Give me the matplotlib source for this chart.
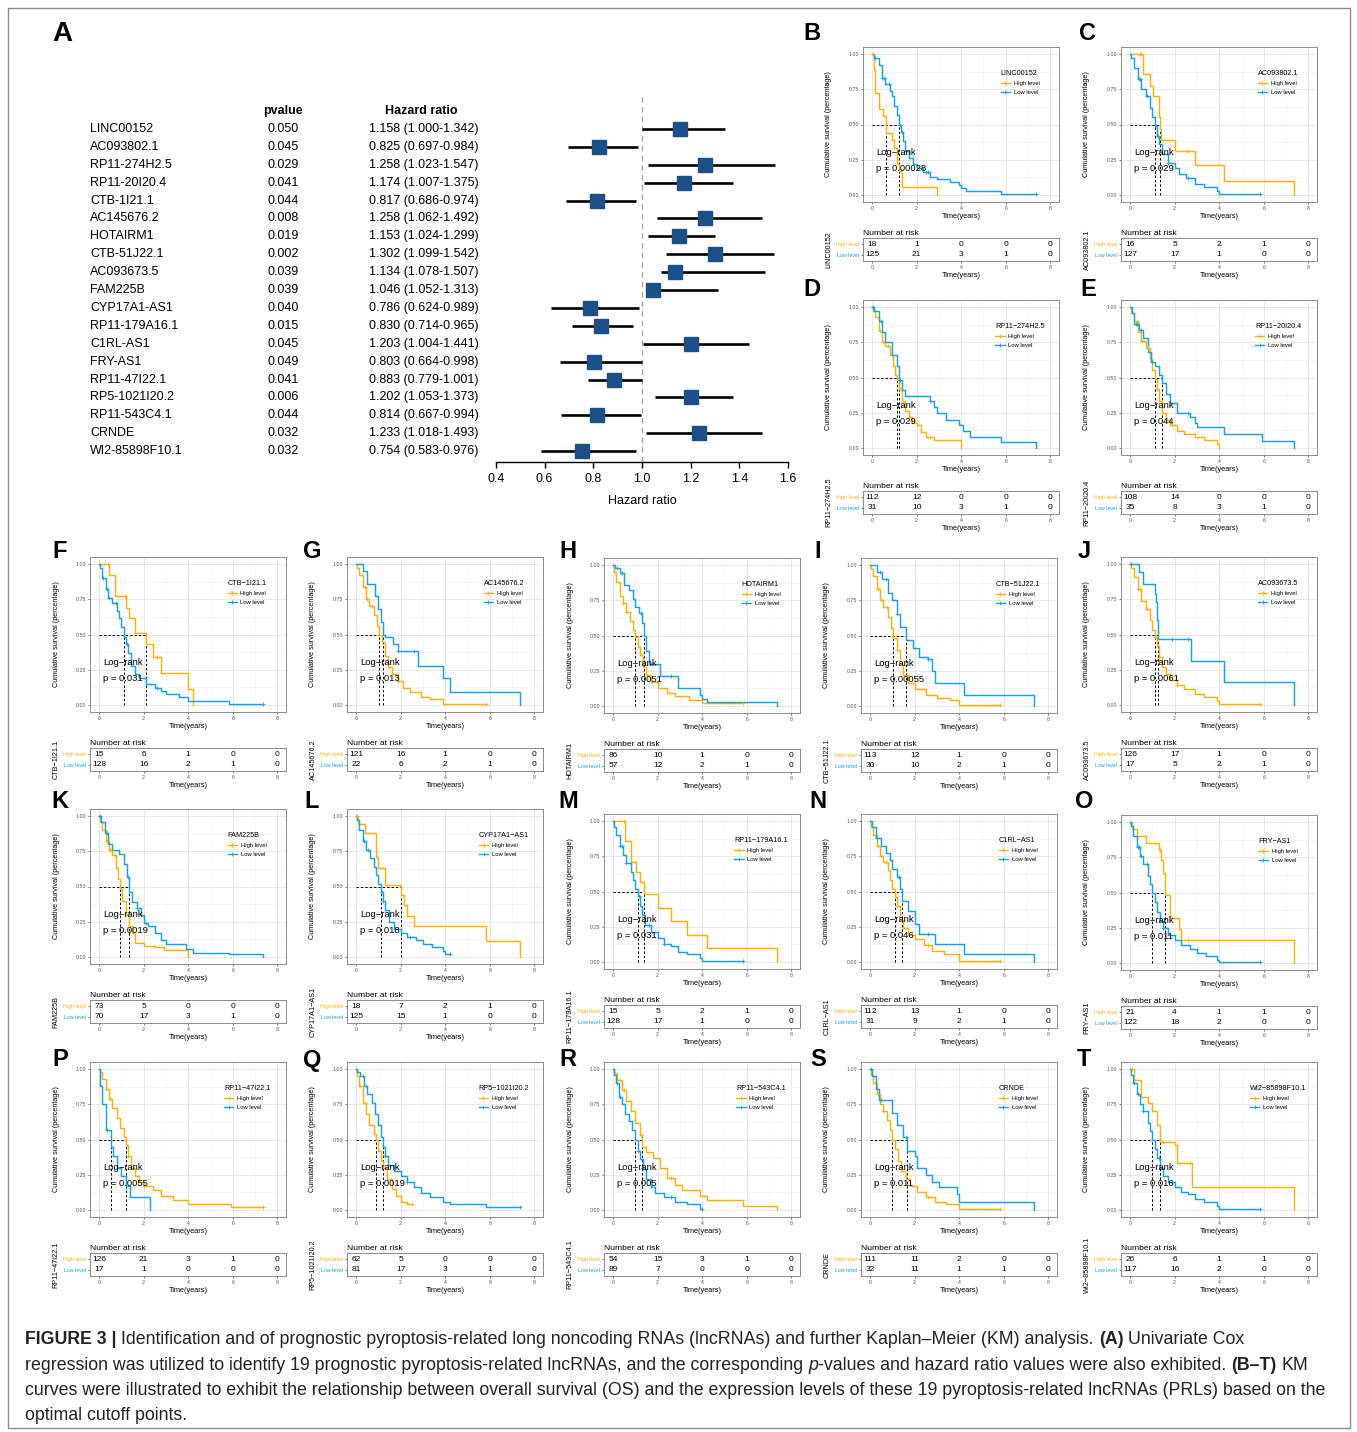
import numpy as np
import matplotlib
matplotlib.use("Agg")
import matplotlib.pyplot as plt
from matplotlib.lines import Line2D
from matplotlib.patches import Rectangle
from matplotlib.transforms import blended_transform_factory

# ---------------------------------------------------------------- data
GENES = ["LINC00152", "AC093802.1", "RP11-274H2.5", "RP11-20I20.4", "CTB-1I21.1",
         "AC145676.2", "HOTAIRM1", "CTB-51J22.1", "AC093673.5", "FAM225B",
         "CYP17A1-AS1", "RP11-179A16.1", "C1RL-AS1", "FRY-AS1", "RP11-47I22.1",
         "RP5-1021I20.2", "RP11-543C4.1", "CRNDE", "WI2-85898F10.1"]
COX_P = [0.050, 0.045, 0.029, 0.041, 0.044, 0.008, 0.019, 0.002, 0.039, 0.039,
         0.040, 0.015, 0.045, 0.049, 0.041, 0.006, 0.044, 0.032, 0.032]
HR = [1.158, 0.825, 1.258, 1.174, 0.817, 1.258, 1.153, 1.302, 1.134, 1.046,
      0.786, 0.830, 1.203, 0.803, 0.883, 1.202, 0.814, 1.233, 0.754]
HR_LOW = [1.000, 0.697, 1.023, 1.007, 0.686, 1.062, 1.024, 1.099, 1.078, 1.052,
          0.624, 0.714, 1.004, 0.664, 0.779, 1.053, 0.667, 1.018, 0.583]
HR_HIGH = [1.342, 0.984, 1.547, 1.375, 0.974, 1.492, 1.299, 1.542, 1.507, 1.313,
           0.989, 0.965, 1.441, 0.998, 1.001, 1.373, 0.994, 1.493, 0.976]
HR_TICKS = [0.4, 0.6, 0.8, 1.0, 1.2, 1.4, 1.6]

PANEL_LETTERS = list("BCDEFGHIJKLMNOPQRST")
LOGRANK_P = ["0.00028", "0.029", "0.029", "0.044", "0.031", "0.013", "0.0051",
             "0.00055", "0.0061", "0.0019", "0.018", "0.031", "0.046", "0.011",
             "0.0055", "0.0019", "0.005", "0.011", "0.016"]
RISK_TIMES = [0, 2, 4, 6, 8]
RISK_HIGH = [[18, 1, 0, 0, 0], [16, 5, 2, 1, 0], [112, 12, 0, 0, 0], [108, 14, 0, 0, 0],
             [15, 6, 1, 0, 0], [121, 16, 1, 0, 0], [86, 10, 1, 0, 0], [113, 12, 1, 0, 0],
             [126, 17, 1, 0, 0], [73, 5, 0, 0, 0], [18, 7, 2, 1, 0], [15, 5, 2, 1, 0],
             [112, 13, 1, 0, 0], [21, 4, 1, 1, 0], [126, 21, 3, 1, 0], [62, 5, 0, 0, 0],
             [54, 15, 3, 1, 0], [111, 11, 2, 0, 0], [26, 6, 1, 1, 0]]
RISK_LOW = [[125, 21, 3, 1, 0], [127, 17, 1, 0, 0], [31, 10, 3, 1, 0], [35, 8, 3, 1, 0],
            [128, 16, 2, 1, 0], [22, 6, 2, 1, 0], [57, 12, 2, 1, 0], [30, 10, 2, 1, 0],
            [17, 5, 2, 1, 0], [70, 17, 3, 1, 0], [125, 15, 1, 0, 0], [128, 17, 1, 0, 0],
            [31, 9, 2, 1, 0], [122, 18, 2, 0, 0], [17, 1, 0, 0, 0], [81, 17, 3, 1, 0],
            [89, 7, 0, 0, 0], [32, 11, 1, 1, 0], [117, 16, 2, 0, 0]]

# Kaplan-Meier step functions: event times, survival after each event, censor times
HIGH_T = [
    [0.1, 0.15, 0.3, 0.5, 0.65, 0.9, 1.0, 1.1, 1.2, 1.35, 2.9],
    [0.6, 0.9, 1.05, 1.3, 1.35, 1.4, 2.0, 2.9, 4.2, 7.35],
    [0.05, 0.15, 0.3, 0.45, 0.6, 0.8, 0.95, 1.05, 1.1, 1.2, 1.35, 1.5, 1.65, 1.8, 2.0, 2.2, 2.4, 2.8, 4.0],
    [0.05, 0.2, 0.35, 0.5, 0.7, 0.9, 1.0, 1.1, 1.2, 1.3, 1.45, 1.6, 1.8, 2.1, 2.4, 2.9, 3.3, 3.9, 4.0],
    [0.45, 0.7, 1.2, 1.35, 1.6, 2.1, 2.4, 2.8, 4.0, 4.2],
    [0.05, 0.15, 0.3, 0.45, 0.6, 0.8, 0.95, 1.05, 1.15, 1.3, 1.45, 1.6, 1.9, 2.1, 2.4, 2.9, 3.3, 3.9],
    [0.05, 0.15, 0.3, 0.45, 0.6, 0.75, 0.9, 1.0, 1.1, 1.2, 1.35, 1.5, 1.7, 2.0, 2.4, 2.8, 3.4, 4.0],
    [0.05, 0.15, 0.3, 0.45, 0.6, 0.8, 0.95, 1.05, 1.2, 1.35, 1.5, 1.7, 2.0, 2.5, 3.0, 3.6, 4.0],
    [0.05, 0.2, 0.35, 0.5, 0.7, 0.9, 1.0, 1.1, 1.2, 1.3, 1.45, 1.6, 1.8, 2.1, 2.4, 2.9, 3.3, 3.9, 4.0],
    [0.05, 0.15, 0.3, 0.45, 0.6, 0.75, 0.85, 0.95, 1.05, 1.2, 1.35, 1.5, 1.6, 2.0, 2.5, 2.9, 4.0],
    [0.1, 0.4, 0.9, 1.0, 1.3, 2.0, 2.15, 2.3, 2.6, 5.85, 7.35],
    [0.55, 0.8, 1.05, 1.2, 1.4, 2.0, 2.6, 3.3, 4.2, 7.35],
    [0.05, 0.15, 0.3, 0.45, 0.6, 0.8, 0.9, 1.0, 1.1, 1.2, 1.35, 1.5, 1.7, 2.0, 2.4, 2.8, 3.3, 4.0],
    [0.1, 0.3, 0.7, 1.3, 1.4, 1.5, 1.55, 1.8, 2.2, 2.3, 7.35],
    [0.05, 0.15, 0.3, 0.45, 0.6, 0.8, 0.95, 1.1, 1.2, 1.3, 1.45, 1.6, 1.8, 2.0, 2.4, 2.8, 3.3, 4.0, 5.9],
    [0.05, 0.15, 0.3, 0.45, 0.6, 0.8, 0.9, 1.0, 1.1, 1.2, 1.4, 1.6, 1.8, 2.0, 2.3],
    [0.05, 0.2, 0.4, 0.6, 0.8, 1.0, 1.2, 1.3, 1.5, 1.8, 2.1, 2.4, 2.8, 3.1, 3.9, 4.2, 5.85, 7.35],
    [0.05, 0.15, 0.3, 0.45, 0.6, 0.75, 0.9, 1.0, 1.1, 1.25, 1.4, 1.6, 1.8, 2.1, 2.5, 2.9, 3.4, 4.0],
    [0.2, 0.5, 0.8, 1.0, 1.2, 1.35, 2.0, 2.1, 2.8, 7.35],
]
HIGH_S = [
    [0.89, 0.72, 0.61, 0.56, 0.44, 0.39, 0.33, 0.22, 0.17, 0.06, 0.0],
    [0.86, 0.77, 0.70, 0.55, 0.47, 0.39, 0.31, 0.21, 0.10, 0.0],
    [0.97, 0.93, 0.83, 0.75, 0.72, 0.66, 0.58, 0.52, 0.48, 0.42, 0.33, 0.26, 0.22, 0.18, 0.16, 0.11, 0.08, 0.06, 0.0],
    [0.96, 0.90, 0.82, 0.76, 0.71, 0.63, 0.55, 0.49, 0.42, 0.33, 0.25, 0.20, 0.16, 0.12, 0.10, 0.08, 0.06, 0.03, 0.0],
    [0.92, 0.77, 0.69, 0.62, 0.51, 0.43, 0.34, 0.23, 0.11, 0.0],
    [0.97, 0.92, 0.84, 0.75, 0.70, 0.64, 0.56, 0.50, 0.45, 0.35, 0.27, 0.22, 0.17, 0.12, 0.09, 0.06, 0.04, 0.01],
    [0.95, 0.88, 0.78, 0.73, 0.67, 0.60, 0.54, 0.49, 0.42, 0.36, 0.28, 0.22, 0.17, 0.13, 0.09, 0.07, 0.04, 0.02],
    [0.97, 0.92, 0.83, 0.75, 0.70, 0.63, 0.55, 0.48, 0.40, 0.30, 0.22, 0.16, 0.12, 0.08, 0.06, 0.04, 0.01],
    [0.97, 0.91, 0.82, 0.74, 0.68, 0.60, 0.53, 0.48, 0.42, 0.34, 0.27, 0.22, 0.18, 0.14, 0.11, 0.08, 0.06, 0.03, 0.01],
    [0.96, 0.90, 0.82, 0.76, 0.72, 0.63, 0.55, 0.48, 0.40, 0.30, 0.22, 0.17, 0.10, 0.08, 0.07, 0.05, 0.0],
    [0.94, 0.88, 0.71, 0.63, 0.51, 0.44, 0.37, 0.29, 0.22, 0.11, 0.0],
    [0.86, 0.71, 0.64, 0.57, 0.48, 0.38, 0.29, 0.19, 0.10, 0.0],
    [0.96, 0.90, 0.82, 0.75, 0.71, 0.65, 0.58, 0.52, 0.46, 0.40, 0.30, 0.24, 0.19, 0.16, 0.12, 0.08, 0.06, 0.01],
    [0.95, 0.90, 0.85, 0.80, 0.73, 0.64, 0.48, 0.32, 0.24, 0.16, 0.0],
    [0.98, 0.93, 0.86, 0.79, 0.72, 0.65, 0.58, 0.52, 0.46, 0.38, 0.30, 0.24, 0.20, 0.17, 0.14, 0.10, 0.07, 0.04, 0.02],
    [0.95, 0.88, 0.76, 0.68, 0.60, 0.54, 0.50, 0.42, 0.35, 0.30, 0.22, 0.15, 0.10, 0.06, 0.04],
    [0.97, 0.92, 0.85, 0.77, 0.70, 0.62, 0.53, 0.45, 0.41, 0.37, 0.30, 0.23, 0.18, 0.14, 0.10, 0.07, 0.03, 0.0],
    [0.96, 0.90, 0.82, 0.75, 0.70, 0.64, 0.57, 0.50, 0.43, 0.35, 0.28, 0.22, 0.17, 0.13, 0.09, 0.06, 0.04, 0.01],
    [0.92, 0.80, 0.76, 0.70, 0.60, 0.48, 0.46, 0.33, 0.16, 0.0],
]
HIGH_CENS = [
    [0.05], [0.45, 0.5, 2.6], [0.35, 0.5, 0.7, 1.3, 2.6], [0.3, 0.55, 0.8, 1.2, 1.9],
    [0.4, 1.15, 2.6], [0.4, 0.5, 0.7, 1.9, 5.85], [0.45, 0.6, 5.85], [0.35, 0.55, 0.75, 1.2, 5.85],
    [0.35, 0.45, 0.75, 1.1, 1.3, 2.1, 5.85], [0.35, 0.5, 0.7], [0.05], [0.5],
    [0.35, 0.5, 0.7, 1.2, 2.6, 5.85], [1.35, 2.6], [0.3, 0.5, 1.3, 2.0, 7.35], [0.2, 0.4, 2.5],
    [0.3, 0.5, 1.25, 2.6], [0.35, 0.6, 1.0, 2.6, 5.85], [0.1, 1.5, 2.7],
]
LOW_T = [
    [0.1, 0.3, 0.45, 0.6, 0.8, 0.9, 1.0, 1.1, 1.2, 1.3, 1.4, 1.5, 1.65, 1.85, 2.0, 2.3, 2.6, 2.9, 3.5, 3.9, 4.0, 4.2, 5.8],
    [0.05, 0.2, 0.35, 0.5, 0.7, 0.9, 1.0, 1.1, 1.2, 1.3, 1.45, 1.7, 2.0, 2.2, 2.5, 2.9, 3.3, 3.9, 4.0],
    [0.1, 0.3, 0.45, 0.6, 0.9, 1.1, 1.2, 1.35, 1.5, 2.6, 2.8, 2.9, 3.3, 3.9, 4.1, 4.4, 5.8, 7.35],
    [0.1, 0.2, 0.4, 0.6, 0.8, 0.95, 1.1, 1.3, 1.45, 1.6, 1.8, 2.1, 2.7, 2.9, 3.0, 4.2, 5.9, 7.35],
    [0.05, 0.15, 0.3, 0.4, 0.6, 0.8, 0.9, 1.0, 1.1, 1.2, 1.3, 1.45, 1.6, 1.8, 2.1, 2.5, 2.8, 3.0, 3.6, 4.0, 5.85],
    [0.3, 0.5, 0.85, 1.0, 1.1, 1.2, 1.3, 1.65, 1.9, 2.8, 3.9, 4.2, 7.35],
    [0.1, 0.3, 0.5, 0.7, 0.9, 1.0, 1.15, 1.3, 1.4, 1.5, 1.6, 2.1, 2.9, 3.9, 4.0, 4.2, 7.35],
    [0.3, 0.55, 0.8, 1.0, 1.2, 1.35, 1.6, 1.95, 2.2, 2.6, 2.8, 2.9, 4.2, 7.35],
    [0.4, 0.6, 1.1, 1.15, 1.2, 1.25, 2.75, 4.2, 7.35],
    [0.1, 0.25, 0.4, 0.6, 0.9, 1.1, 1.25, 1.35, 1.5, 1.7, 1.9, 2.0, 2.2, 2.5, 2.8, 3.0, 3.9, 4.2, 5.85, 7.35],
    [0.05, 0.15, 0.3, 0.45, 0.65, 0.8, 0.9, 1.0, 1.1, 1.2, 1.3, 1.5, 1.7, 2.0, 2.3, 2.7, 3.0, 3.4, 3.9, 4.0],
    [0.05, 0.15, 0.3, 0.45, 0.6, 0.8, 0.9, 1.0, 1.1, 1.2, 1.3, 1.45, 1.7, 2.0, 2.3, 2.6, 2.9, 3.3, 3.9, 4.0],
    [0.1, 0.25, 0.5, 0.7, 0.9, 1.0, 1.2, 1.35, 1.45, 1.7, 2.0, 2.2, 2.9, 4.2, 7.35],
    [0.05, 0.15, 0.3, 0.45, 0.6, 0.8, 0.9, 1.0, 1.1, 1.2, 1.35, 1.5, 1.7, 2.0, 2.3, 2.7, 3.0, 3.4, 3.9, 4.0],
    [0.05, 0.15, 0.3, 0.55, 0.65, 0.8, 1.0, 1.2, 1.4, 2.3],
    [0.05, 0.2, 0.35, 0.5, 0.7, 0.85, 1.0, 1.1, 1.2, 1.3, 1.45, 1.7, 2.0, 2.3, 2.6, 2.9, 3.3, 3.9, 4.2, 5.85],
    [0.05, 0.15, 0.25, 0.4, 0.55, 0.7, 0.85, 1.0, 1.1, 1.2, 1.35, 1.5, 1.7, 1.9, 2.3, 2.8, 3.3, 3.9],
    [0.1, 0.25, 0.4, 1.0, 1.2, 1.5, 1.65, 2.0, 2.1, 2.5, 2.8, 3.1, 3.9, 4.0, 7.35],
    [0.05, 0.15, 0.3, 0.45, 0.6, 0.8, 0.9, 1.0, 1.1, 1.2, 1.35, 1.5, 1.7, 2.0, 2.3, 2.6, 2.9, 3.3, 3.9, 4.0],
]
LOW_S = [
    [0.97, 0.92, 0.83, 0.79, 0.74, 0.70, 0.63, 0.57, 0.50, 0.45, 0.38, 0.31, 0.26, 0.22, 0.19, 0.16, 0.13, 0.11, 0.09, 0.07, 0.05, 0.03, 0.01],
    [0.97, 0.90, 0.82, 0.75, 0.70, 0.62, 0.55, 0.49, 0.42, 0.36, 0.29, 0.23, 0.19, 0.15, 0.12, 0.08, 0.06, 0.03, 0.01],
    [0.97, 0.90, 0.82, 0.75, 0.66, 0.58, 0.48, 0.41, 0.37, 0.33, 0.29, 0.25, 0.20, 0.16, 0.12, 0.08, 0.04, 0.0],
    [0.96, 0.88, 0.84, 0.78, 0.68, 0.61, 0.58, 0.52, 0.46, 0.38, 0.32, 0.25, 0.22, 0.18, 0.15, 0.10, 0.05, 0.0],
    [0.97, 0.90, 0.82, 0.76, 0.72, 0.67, 0.62, 0.55, 0.48, 0.43, 0.37, 0.28, 0.22, 0.19, 0.15, 0.12, 0.10, 0.08, 0.06, 0.03, 0.01],
    [0.95, 0.86, 0.77, 0.68, 0.59, 0.50, 0.48, 0.43, 0.38, 0.28, 0.19, 0.09, 0.0],
    [0.98, 0.94, 0.86, 0.82, 0.76, 0.70, 0.66, 0.59, 0.50, 0.39, 0.30, 0.21, 0.13, 0.08, 0.05, 0.03, 0.0],
    [0.95, 0.90, 0.80, 0.75, 0.65, 0.56, 0.47, 0.41, 0.35, 0.33, 0.25, 0.16, 0.08, 0.0],
    [0.94, 0.86, 0.79, 0.73, 0.60, 0.47, 0.31, 0.16, 0.0],
    [0.96, 0.88, 0.80, 0.76, 0.73, 0.66, 0.57, 0.46, 0.39, 0.35, 0.30, 0.24, 0.22, 0.17, 0.12, 0.09, 0.06, 0.03, 0.02, 0.0],
    [0.97, 0.90, 0.82, 0.76, 0.70, 0.64, 0.58, 0.52, 0.46, 0.40, 0.33, 0.25, 0.20, 0.17, 0.14, 0.12, 0.09, 0.07, 0.04, 0.02],
    [0.96, 0.90, 0.82, 0.76, 0.70, 0.64, 0.58, 0.52, 0.47, 0.40, 0.33, 0.26, 0.21, 0.17, 0.13, 0.11, 0.07, 0.06, 0.03, 0.01],
    [0.96, 0.88, 0.82, 0.77, 0.72, 0.66, 0.60, 0.52, 0.43, 0.36, 0.27, 0.20, 0.13, 0.06, 0.0],
    [0.97, 0.90, 0.82, 0.76, 0.70, 0.62, 0.56, 0.50, 0.43, 0.36, 0.30, 0.25, 0.20, 0.16, 0.13, 0.10, 0.07, 0.05, 0.02, 0.01],
    [0.88, 0.75, 0.57, 0.45, 0.38, 0.30, 0.24, 0.17, 0.09, 0.0],
    [0.98, 0.95, 0.88, 0.82, 0.76, 0.68, 0.60, 0.52, 0.45, 0.38, 0.32, 0.28, 0.24, 0.20, 0.16, 0.12, 0.09, 0.06, 0.04, 0.02],
    [0.96, 0.90, 0.80, 0.75, 0.68, 0.63, 0.57, 0.50, 0.42, 0.36, 0.29, 0.22, 0.16, 0.12, 0.09, 0.06, 0.04, 0.01],
    [0.95, 0.86, 0.78, 0.69, 0.60, 0.52, 0.42, 0.38, 0.30, 0.25, 0.20, 0.16, 0.11, 0.06, 0.0],
    [0.96, 0.90, 0.82, 0.75, 0.70, 0.62, 0.56, 0.50, 0.43, 0.37, 0.30, 0.24, 0.20, 0.16, 0.13, 0.11, 0.08, 0.06, 0.03, 0.01],
]
LOW_CENS = [
    [0.15, 0.45, 0.55, 0.75, 1.25, 1.35, 2.4, 2.5, 7.35], [0.4, 0.45, 0.75, 1.25, 1.7, 2.6, 5.85],
    [0.05, 0.4, 1.25, 2.6], [0.25, 0.3, 0.5, 1.0, 2.6], [0.2, 0.35, 0.45, 0.75, 1.25, 2.6, 7.35],
    [1.9, 2.6], [0.2, 0.4, 1.25, 2.6], [0.45, 0.7, 1.2, 2.6], [0.05, 1.9, 2.6],
    [0.05, 0.35, 1.3, 1.7, 2.1], [0.35, 0.55, 1.15, 1.2, 2.4, 4.2], [0.3, 0.4, 0.6, 1.15, 1.6, 2.3, 5.85],
    [0.3, 1.3, 2.6], [0.35, 0.4, 0.5, 0.75, 1.5, 5.85], [0.35], [0.3, 0.45, 1.3, 2.3, 7.35],
    [0.2, 0.3, 1.1, 2.6, 4.0], [0.05, 0.5, 1.6], [0.2, 0.35, 0.6, 1.3, 5.85],
]

# ---------------------------------------------------------------- style
plt.rcParams["font.family"] = ["Liberation Sans", "DejaVu Sans"]
HIGH_COLOR = "#F7B30C"
LOW_COLOR = "#1AA0E6"
BOX_COLOR = "#1B4F8A"

W, H = 1357, 1432
fig = plt.figure(figsize=(W / 100, H / 100), dpi=100)
fig.patch.set_facecolor("white")


def fx(x):
    return x / W


def fy(y):
    return 1 - y / H


def add_axes_px(left, top, width, height):
    return fig.add_axes([left / W, 1 - (top + height) / H, width / W, height / H])


# ---------------------------------------------------------------- panel A: forest plot
fig.text(fx(52), fy(34), "A", fontsize=20, fontweight="bold", ha="left", va="center")
ax = add_axes_px(496, 97, 292, 365)
rows = np.arange(len(GENES))
ax.set_xlim(HR_TICKS[0], HR_TICKS[-1])
ax.set_ylim(18.61, -1.79)
ax.axvline(1.0, color="#A8A8A8", lw=1.0, ls=(0, (4, 3)), zorder=1)
ax.hlines(rows, HR_LOW, HR_HIGH, color="black", lw=1.9, zorder=2)
ax.plot(HR, rows, "s", color=BOX_COLOR, ms=10, mec=BOX_COLOR, zorder=3)
for s in ["top", "right", "left"]:
    ax.spines[s].set_visible(False)
ax.spines["bottom"].set_linewidth(1.0)
ax.set_yticks([])
ax.set_xticks(HR_TICKS)
ax.set_xticklabels([f"{t:.1f}" for t in HR_TICKS], fontsize=9)
ax.tick_params(axis="x", length=4, width=1, pad=4)
ax.set_xlabel("Hazard ratio", fontsize=9, labelpad=7)
ax.patch.set_alpha(0)

tr = blended_transform_factory(fig.transFigure, ax.transData)
ax.text(fx(283), -1.0, "pvalue", transform=tr, ha="center", va="center", fontsize=9, fontweight="bold")
ax.text(fx(421), -1.0, "Hazard ratio", transform=tr, ha="center", va="center", fontsize=9, fontweight="bold")
for i, g in enumerate(GENES):
    ax.text(fx(90), i, g, transform=tr, ha="left", va="center", fontsize=9)
    ax.text(fx(283), i, f"{COX_P[i]:.3f}", transform=tr, ha="center", va="center", fontsize=9)
    ax.text(fx(424), i, f"{HR[i]:.3f} ({HR_LOW[i]:.3f}-{HR_HIGH[i]:.3f})", transform=tr,
            ha="center", va="center", fontsize=9)

# ---------------------------------------------------------------- panels B-T: KM curves
PX_T = 22.3   # pixels per year
PX_S = 141.0  # pixels per unit survival

# (tick-0 x, y of 1.00, letter x, letter y) for each panel
LAYOUT = [
    (872, 54, 812, 33), (1130, 54, 1088, 33),
    (872, 307, 812, 290), (1130, 307, 1088, 290),
    (99, 564, 60, 551), (356, 564, 312, 551), (613, 565, 568, 551), (870, 565, 818, 551), (1130, 564, 1084, 551),
    (99, 816, 60, 802), (356, 816, 312, 802), (613, 821, 568, 802), (870, 821, 818, 802), (1130, 822, 1084, 802),
    (99, 1069, 60, 1060), (356, 1069, 312, 1060), (613, 1069, 568, 1060), (870, 1069, 818, 1060), (1130, 1069, 1084, 1060),
]


def step_xy(t, s, cens):
    end = max(t[-1], max(cens) if cens else 0)
    return [0] + list(t) + [end], [1.0] + list(s) + [s[-1]]


def surv_at(t, s, q):
    idx = np.searchsorted(np.asarray(t), q, side="right")
    return 1.0 if idx == 0 else s[idx - 1]


def median_time(t, s):
    for ti, si in zip(t, s):
        if si <= 0.5:
            return ti
    return None


def style_km_axes(a):
    a.set_xlim(-0.4, 8.4)
    a.set_xticks([0, 2, 4, 6, 8])
    a.set_xticklabels(["0", "2", "4", "6", "8"])
    for sp in a.spines.values():
        sp.set_color("#8C8C8C")
        sp.set_linewidth(0.7)
    a.tick_params(which="major", length=1.6, width=0.5, color="#444444",
                  labelsize=3.8, labelcolor="#555555", pad=1)
    a.tick_params(which="minor", length=0)


for i, (x0, y1, lx, ly) in enumerate(LAYOUT):
    gene = GENES[i].replace("-", "\u2212")
    fig.text(fx(lx), fy(ly), PANEL_LETTERS[i], fontsize=17, fontweight="bold", ha="center", va="center")

    a = add_axes_px(x0 - 0.4 * PX_T, y1 - 0.05 * PX_S, 8.8 * PX_T, 1.1 * PX_S)
    style_km_axes(a)
    a.set_ylim(-0.05, 1.05)
    a.set_yticks([0, 0.25, 0.5, 0.75, 1.0])
    a.set_yticklabels(["0.00", "0.25", "0.50", "0.75", "1.00"])
    a.set_xticks([1, 3, 5, 7], minor=True)
    a.set_yticks([0.125, 0.375, 0.625, 0.875], minor=True)
    a.grid(which="major", color="#E4E4E4", lw=0.6)
    a.grid(which="minor", color="#F1F1F1", lw=0.4)
    a.set_axisbelow(True)

    curves = [(HIGH_T[i], HIGH_S[i], HIGH_CENS[i], HIGH_COLOR),
              (LOW_T[i], LOW_S[i], LOW_CENS[i], LOW_COLOR)]
    meds = []
    for t, s, c, col in curves:
        xs, ys = step_xy(t, s, c)
        a.step(xs, ys, where="post", color=col, lw=1.05, zorder=3)
        a.plot(c, [surv_at(t, s, q) for q in c], "+", color=col, ms=3.2, mew=0.6, zorder=4)
        m = median_time(t, s)
        if m is not None:
            meds.append(m)
    if meds:
        a.plot([0, max(meds)], [0.5, 0.5], color="black", lw=0.7, ls=(0, (2.5, 2)), zorder=2)
        for m in meds:
            a.plot([m, m], [0, 0.5], color="black", lw=0.7, ls=(0, (2.5, 2)), zorder=2)

    a.text(0.2, 0.30, "Log\u2212rank", fontsize=6.8, ha="left", va="center", zorder=5)
    a.text(0.2, 0.19, f"p = {LOGRANK_P[i]}", fontsize=6.8, ha="left", va="center", zorder=5)
    a.set_xlabel("Time(years)", fontsize=5.3, labelpad=1.5)

    handles = [Line2D([], [], color=HIGH_COLOR, lw=1.0, marker="+", ms=3, mew=0.6),
               Line2D([], [], color=LOW_COLOR, lw=1.0, marker="+", ms=3, mew=0.6)]
    leg = a.legend(handles, ["High level", "Low level"], title=gene, loc="center",
                   bbox_to_anchor=(0.80, 0.77), frameon=False, fontsize=4.2,
                   title_fontsize=5.2, handlelength=1.6, handletextpad=0.6,
                   labelspacing=0.7, alignment="left", borderaxespad=0)
    fig.text(fx(x0 - 43), fy(y1 + 70), "Cumulative survival (percentage)", rotation=90,
             fontsize=5.2, ha="center", va="center")

    # number-at-risk table
    row_hi = y1 + 190
    tb = add_axes_px(x0 - 0.4 * PX_T, row_hi - 6, 8.8 * PX_T, 23)
    style_km_axes(tb)
    tb.set_ylim(-0.55, 1.55)
    for tt, n in zip(RISK_TIMES, RISK_HIGH[i]):
        tb.text(tt, 1, str(n), ha="center", va="center", fontsize=6)
    for tt, n in zip(RISK_TIMES, RISK_LOW[i]):
        tb.text(tt, 0, str(n), ha="center", va="center", fontsize=6)
    tb.set_yticks([1, 0])
    tb.set_yticklabels(["High level", "Low level"])
    tb.tick_params(axis="y", labelsize=3.8)
    for lab, col in zip(tb.get_yticklabels(), [HIGH_COLOR, LOW_COLOR]):
        lab.set_color(col)
    tb.set_xlabel("Time(years)", fontsize=5.3, labelpad=1.5)
    tb.set_title("Number at risk", loc="left", fontsize=6.1, pad=2.5)
    fig.text(fx(x0 - 43), fy(row_hi + 5.5), gene, rotation=90, fontsize=5.2, ha="center", va="center")

# ---------------------------------------------------------------- caption
# each run: (text, weight, style, space before)
CAPTION = [
    [("FIGURE 3 |", "bold", "normal", False),
     ("Identification and of prognostic pyroptosis-related long noncoding RNAs (lncRNAs) and further "
      "Kaplan\u2013Meier (KM) analysis.", "normal", "normal", True),
     ("(A)", "bold", "normal", True),
     ("Univariate Cox", "normal", "normal", True)],
    [("regression was utilized to identify 19 prognostic pyroptosis-related lncRNAs, and the corresponding",
      "normal", "normal", False),
     ("p", "normal", "italic", True),
     ("-values and hazard ratio values were also exhibited.", "normal", "normal", False),
     ("(B\u2013T)", "bold", "normal", True),
     ("KM", "normal", "normal", True)],
    [("curves were illustrated to exhibit the relationship between overall survival (OS) and the expression "
      "levels of these 19 pyroptosis-related lncRNAs (PRLs) based on the", "normal", "normal", False)],
    [("optimal cutoff points.", "normal", "normal", False)],
]
renderer = fig.canvas.get_renderer()


def text_width(s, fs, weight="normal", style="normal"):
    t = fig.text(0, 0, s, fontsize=fs, fontweight=weight, fontstyle=style)
    w = t.get_window_extent(renderer).width
    t.remove()
    return w


base_fs = 12.0
cap_fs = base_fs * 1298.0 / text_width(CAPTION[2][0][0], base_fs)
space_w = text_width("n n", cap_fs) - text_width("nn", cap_fs)
baselines = [1344, 1369.5, 1395, 1420.5]
for line, yb in zip(CAPTION, baselines):
    x = 25.0
    for s, weight, style, sp in line:
        if sp:
            x += space_w
        t = fig.text(fx(x), fy(yb), s, fontsize=cap_fs, fontweight=weight, fontstyle=style,
                     ha="left", va="baseline", color="#222222")
        x = t.get_window_extent(renderer).x1

# outer frame
fig.add_artist(Rectangle((fx(8), fy(1428)), 1342 / W, 1420 / H, transform=fig.transFigure,
                         fill=False, ec="#8A8A8A", lw=1.0))

fig.savefig("out.png", dpi=100)
